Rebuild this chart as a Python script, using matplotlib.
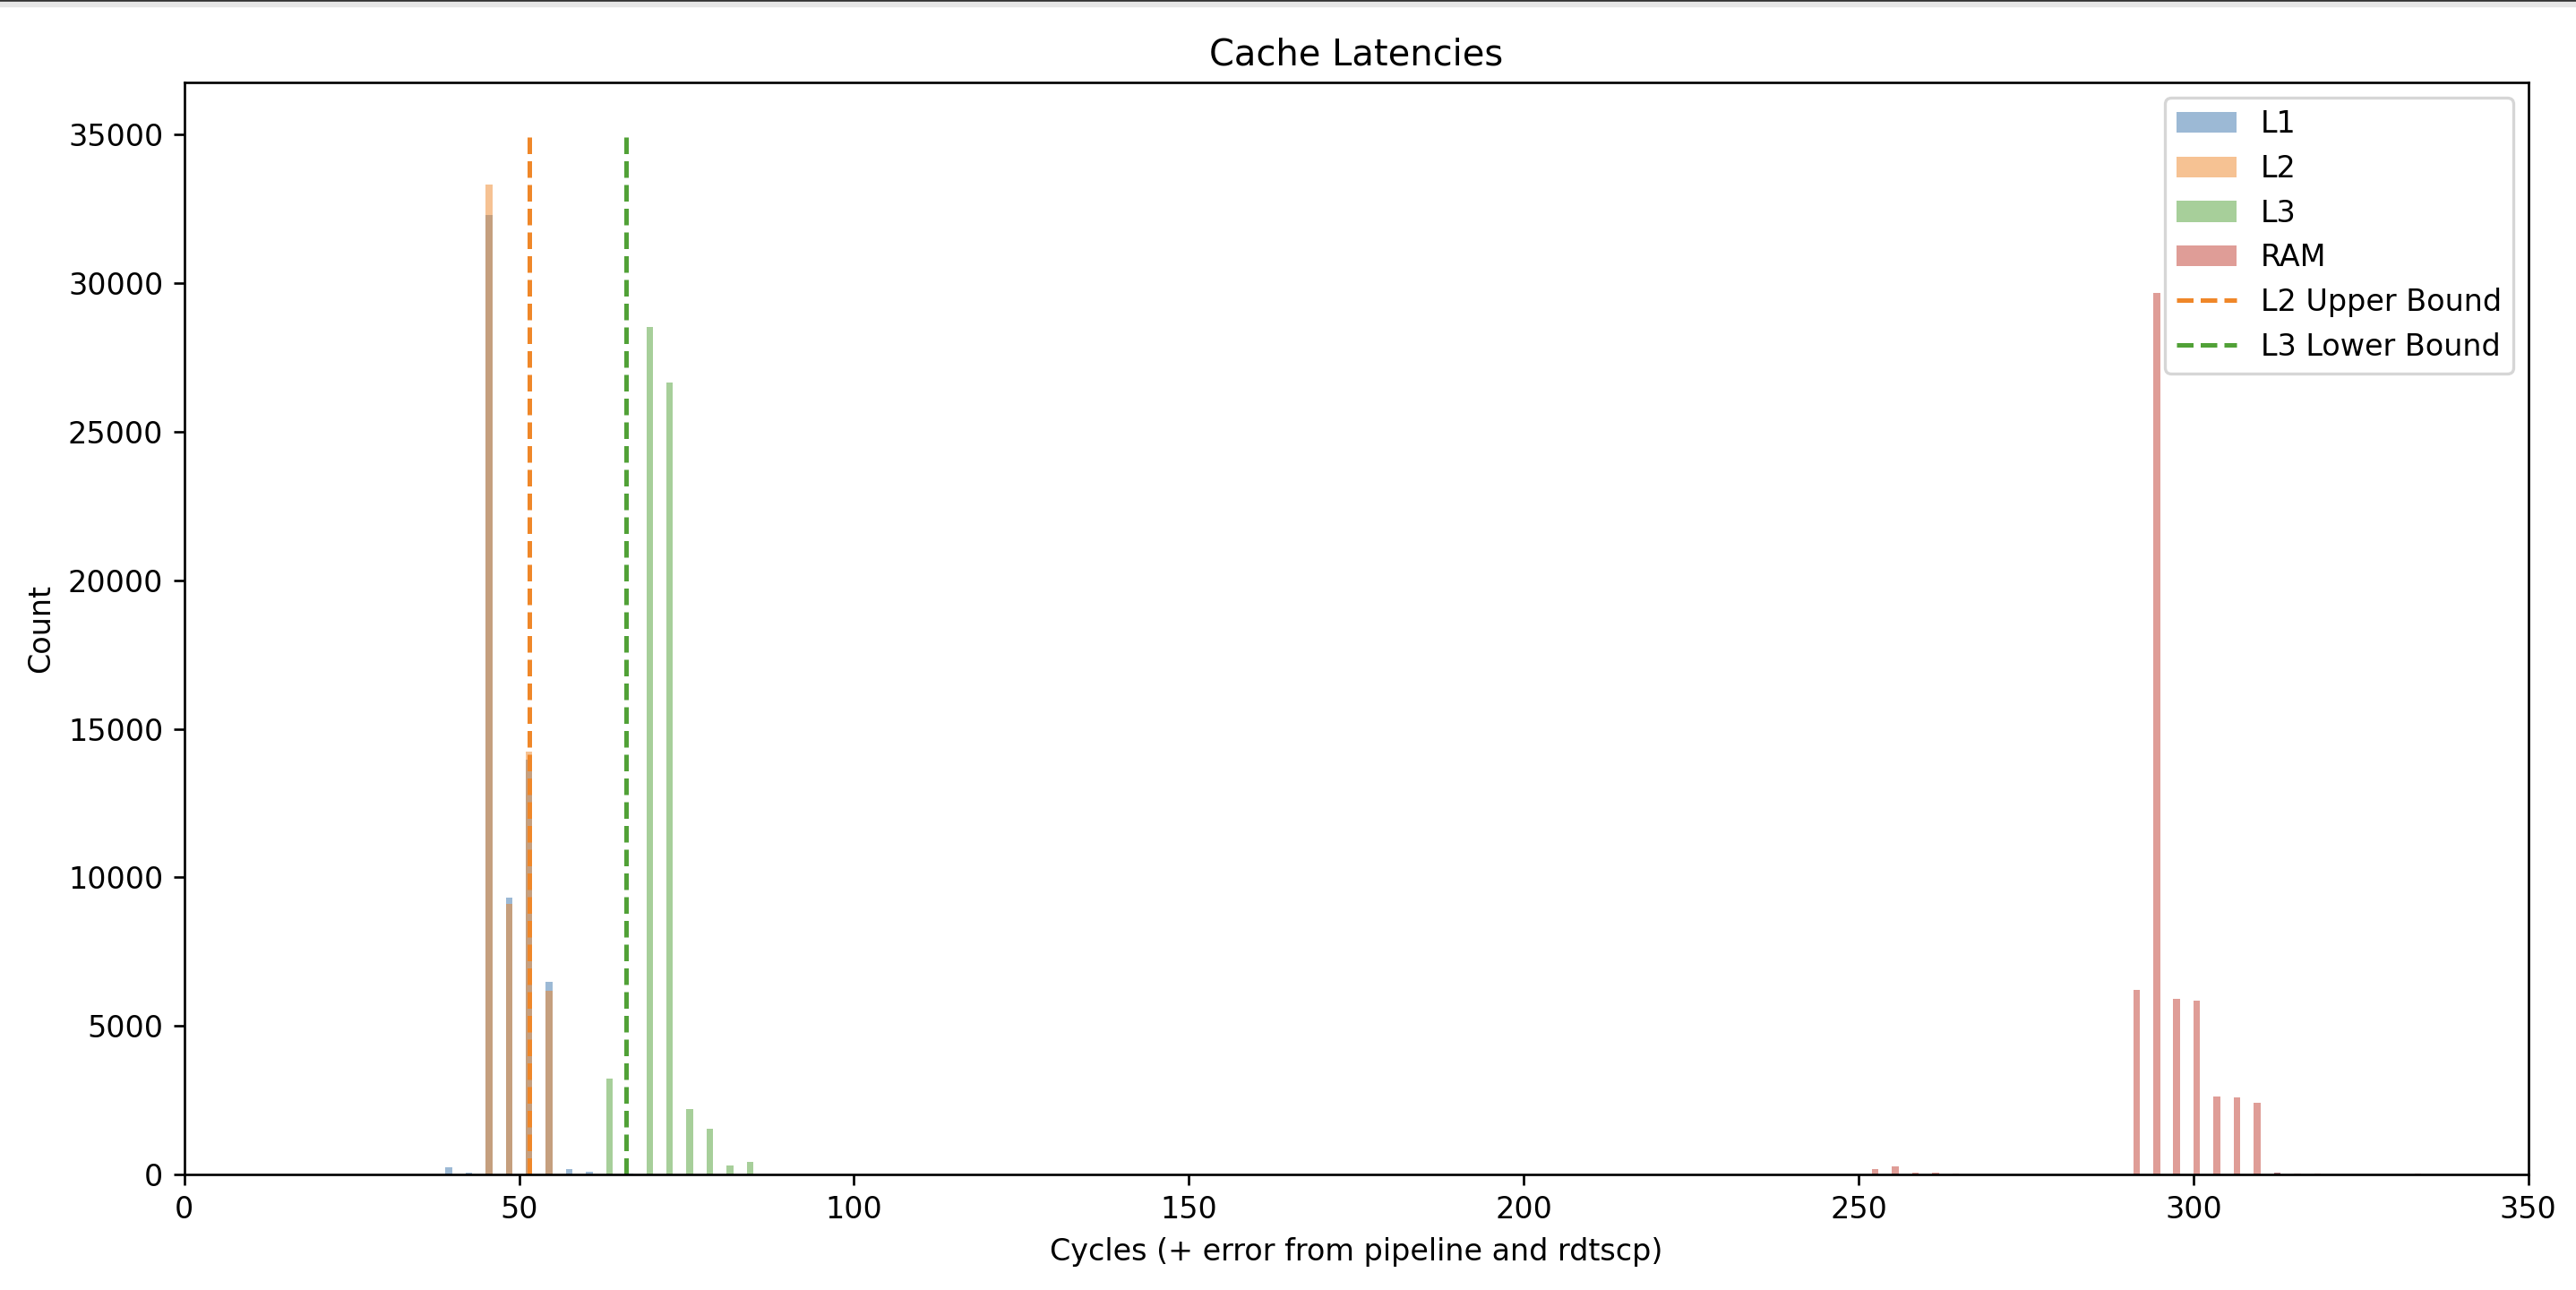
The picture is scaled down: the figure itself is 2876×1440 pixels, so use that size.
import matplotlib
matplotlib.use("Agg")
import numpy as np
import matplotlib.pyplot as plt
from matplotlib.patches import Rectangle

# cycle values (bin starts) and counts
l1_cycles = [39, 42, 45, 48, 51, 54, 57, 60, 66, 312]
l1_counts = [240, 50, 32300, 9330, 13950, 6470, 170, 100, 40, 50]

l2_cycles = [45, 48, 51, 54]
l2_counts = [33310, 9120, 14230, 6170]

l3_cycles = [63, 69, 72, 75, 78, 81, 84]
l3_counts = [3220, 28530, 26650, 2190, 1530, 290, 430]

ram_cycles = [252, 255, 258, 261, 264, 291, 294, 297, 300, 303, 306, 309, 312, 315, 318, 333]
ram_counts = [170, 280, 60, 60, 20, 6210, 29680, 5915, 5850, 2625, 2585, 2415, 60, 30, 20, 15]

l2_upper_bound = 51.5
l3_lower_bound = 66
bound_top = 35000

# slightly muted versions of the tab10 colours, as they appear in the picture
c_blue = "#3b75ad"
c_orange = "#ef8729"
c_green = "#51a137"
c_red = "#c13d31"

bins = np.arange(0, 351, 1)

fig = plt.figure(figsize=(2876 / 240, 1440 / 240), dpi=240)
ax = fig.add_axes([0.0715, 0.0896, 0.91, 0.8463])

ax.hist(l1_cycles, bins=bins, weights=l1_counts, alpha=0.5, color=c_blue, label="L1")
ax.hist(l2_cycles, bins=bins, weights=l2_counts, alpha=0.5, color=c_orange, label="L2")
ax.hist(l3_cycles, bins=bins, weights=l3_counts, alpha=0.5, color=c_green, label="L3")
ax.hist(ram_cycles, bins=bins, weights=ram_counts, alpha=0.5, color=c_red, label="RAM")

ax.vlines(l2_upper_bound, 0, bound_top, colors=c_orange, linestyles="--", linewidth=1.5, label="L2 Upper Bound")
ax.vlines(l3_lower_bound, 0, bound_top, colors=c_green, linestyles="--", linewidth=1.5, label="L3 Lower Bound")

ax.set_xlim(0, 350)
ax.set_title("Cache Latencies")
ax.set_xlabel("Cycles (+ error from pipeline and rdtscp)")
ax.set_ylabel("Count")
ax.legend(loc="upper right")

# dark strip along the top edge of the screenshot
fig.patches.append(Rectangle((0, 1 - 3 / 1440), 1, 3 / 1440, transform=fig.transFigure,
                             color="#333333", zorder=10))
fig.patches.append(Rectangle((0, 1 - 6 / 1440), 1, 3 / 1440, transform=fig.transFigure,
                             color="#e6e6e6", zorder=10))

fig.savefig("out.png", dpi=240)
